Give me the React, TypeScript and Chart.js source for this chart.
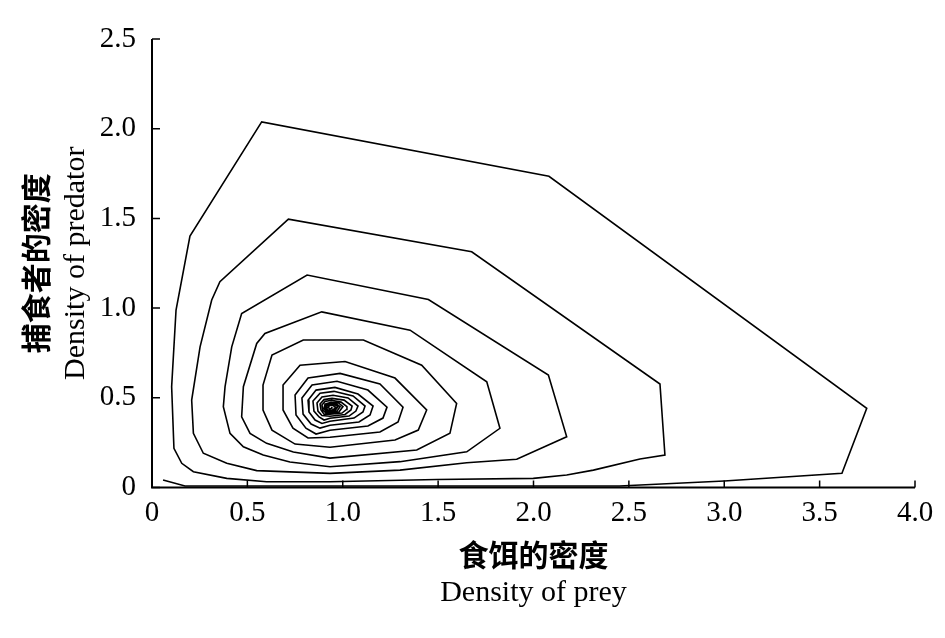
import React, { useEffect, useRef } from 'react';
import { Chart, registerables } from 'chart.js';

Chart.register(...registerables);

// Prey density (x) along the trajectory, spiralling inward
const preyDensity = [
  0.058, 0.173, 2.45, 3.0, 3.617, 3.747, 2.081, 0.575, 0.199, 0.126, 0.103, 0.115, 0.156, 0.217, 0.392, 0.601,
  0.933, 1.493, 1.999, 2.174, 2.314, 2.558, 2.689, 2.663, 1.676, 0.715, 0.356, 0.313, 0.252, 0.208, 0.217, 0.269, 0.392, 0.549,
  0.933, 1.3, 1.65, 1.912, 2.174, 2.078, 1.449, 0.813, 0.47, 0.418, 0.383, 0.374, 0.409, 0.479, 0.583, 0.723,
  0.933, 1.3, 1.65, 1.824, 1.755, 1.353, 0.89, 0.592, 0.549, 0.479, 0.47, 0.514, 0.601, 0.741,
  0.933, 1.388, 1.562, 1.597, 1.414, 1.108, 0.793, 0.629, 0.582, 0.582, 0.629, 0.75,
  0.933, 1.274, 1.396, 1.44, 1.274, 1.012, 0.776, 0.687, 0.687, 0.739, 0.818,
  0.933, 1.195, 1.29, 1.316, 1.195, 0.986, 0.818, 0.75, 0.755, 0.807, 0.86,
  0.933, 1.132, 1.211, 1.232, 1.132, 0.97, 0.839, 0.786, 0.792, 0.834, 0.881,
  0.933, 1.085, 1.143, 1.159, 1.08, 0.959, 0.86, 0.818, 0.823, 0.855, 0.891,
  0.933, 1.059, 1.106, 1.117, 1.054, 0.954, 0.881, 0.844, 0.849, 0.876, 0.902,
  0.933, 1.033, 1.069, 1.08, 1.028, 0.949, 0.891, 0.865, 0.87, 0.891,
  0.933, 1.012, 1.043, 1.049, 1.007, 0.944, 0.902, 0.881, 0.886, 0.902,
  0.933, 0.996, 1.02, 1.022, 0.991, 0.941, 0.907, 0.891, 0.896, 0.912,
  0.933, 0.98, 1.001, 0.978, 0.938, 0.907, 0.902, 0.917,
  0.933, 0.97, 0.986, 0.967, 0.936, 0.912, 0.91, 0.923,
  0.933, 0.962, 0.975, 0.959, 0.933, 0.915, 0.917,
  0.933, 0.954, 0.962, 0.949, 0.931, 0.923, 0.933, 0.944, 0.938,
];

// Predator density (y) along the same trajectory
const predatorDensity = [
  0.042, 0.008, 0.008, 0.036, 0.079, 0.441, 1.735, 2.038, 1.401, 0.989, 0.562, 0.218, 0.135, 0.088, 0.051, 0.032,
  0.032, 0.045, 0.051, 0.07, 0.097, 0.159, 0.181, 0.577, 1.314, 1.496, 1.147, 1.045, 0.784, 0.487, 0.302, 0.191, 0.135, 0.094,
  0.079, 0.097, 0.138, 0.157, 0.283, 0.627, 1.048, 1.184, 0.97, 0.784, 0.562, 0.45, 0.302, 0.227, 0.181, 0.142,
  0.116, 0.144, 0.199, 0.33, 0.589, 0.877, 0.979, 0.859, 0.803, 0.562, 0.394, 0.302, 0.246, 0.198,
  0.164, 0.209, 0.302, 0.469, 0.682, 0.822, 0.822, 0.738, 0.571, 0.432, 0.32, 0.242,
  0.224, 0.265, 0.32, 0.432, 0.61, 0.702, 0.682, 0.571, 0.432, 0.331, 0.276,
  0.28, 0.309, 0.365, 0.448, 0.577, 0.636, 0.61, 0.515, 0.404, 0.331, 0.298,
  0.319, 0.343, 0.387, 0.448, 0.543, 0.592, 0.571, 0.499, 0.409, 0.354, 0.331,
  0.347, 0.365, 0.404, 0.454, 0.521, 0.558, 0.543, 0.487, 0.421, 0.376, 0.357,
  0.369, 0.387, 0.421, 0.454, 0.51, 0.536, 0.526, 0.482, 0.426, 0.393, 0.376,
  0.386, 0.398, 0.426, 0.454, 0.499, 0.514, 0.504, 0.471, 0.426, 0.401,
  0.397, 0.407, 0.432, 0.454, 0.487, 0.497, 0.49, 0.465, 0.432, 0.409,
  0.408, 0.415, 0.435, 0.451, 0.476, 0.486, 0.479, 0.46, 0.432, 0.415,
  0.413, 0.421, 0.451, 0.471, 0.475, 0.465, 0.44, 0.421,
  0.419, 0.426, 0.451, 0.465, 0.469, 0.46, 0.44, 0.425,
  0.425, 0.432, 0.451, 0.461, 0.464, 0.454, 0.435,
  0.429, 0.435, 0.448, 0.457, 0.457, 0.446, 0.438, 0.443, 0.446,
];

const xTickLabels = ['0', '0.5', '1.0', '1.5', '2.0', '2.5', '3.0', '3.5', '4.0'];
const yTickLabels = ['0', '0.5', '1.0', '1.5', '2.0', '2.5'];
const xTitleZh = '食饵的密度';
const xTitleEn = 'Density of prey';
const yTitleZh = '捕食者的密度';
const yTitleEn = 'Density of predator';

const SERIF = '"Liberation Serif", "Times New Roman", serif';
const CJK = '"Noto Sans CJK SC", "Noto Sans CJK JP", sans-serif';

const decorPlugin = {
  id: 'decor',
  afterDraw(chart: any) {
    const { ctx, chartArea } = chart;
    const { left, right, top, bottom } = chartArea;
    const xs = chart.scales.x;
    const ys = chart.scales.y;
    ctx.save();
    ctx.strokeStyle = '#000';
    ctx.lineWidth = 2;
    ctx.beginPath();
    ctx.moveTo(left, top);
    ctx.lineTo(left, bottom);
    ctx.lineTo(right, bottom);
    ctx.stroke();
    ctx.lineWidth = 1.5;
    ctx.beginPath();
    xs.ticks.forEach((t: any) => {
      const px = xs.getPixelForValue(t.value);
      ctx.moveTo(px, bottom);
      ctx.lineTo(px, bottom - 7);
    });
    ys.ticks.forEach((t: any) => {
      const py = ys.getPixelForValue(t.value);
      ctx.moveTo(left, py);
      ctx.lineTo(left + 8, py);
    });
    ctx.stroke();

    ctx.fillStyle = '#000';
    ctx.textAlign = 'center';
    const cx = (left + right) / 2;
    const cy = (top + bottom) / 2;
    ctx.font = 'bold 30px ' + CJK;
    ctx.textBaseline = 'middle';
    ctx.fillText(xTitleZh, cx, 555);
    ctx.font = '30px ' + SERIF;
    ctx.textBaseline = 'alphabetic';
    ctx.fillText(xTitleEn, cx, 601);

    ctx.save();
    ctx.translate(36, cy);
    ctx.rotate(-Math.PI / 2);
    ctx.font = 'bold 30px ' + CJK;
    ctx.textBaseline = 'middle';
    ctx.fillText(yTitleZh, 0, 0);
    ctx.restore();

    ctx.save();
    ctx.translate(84, cy);
    ctx.rotate(-Math.PI / 2);
    ctx.font = '30px ' + SERIF;
    ctx.textBaseline = 'alphabetic';
    ctx.fillText(yTitleEn, 0, 0);
    ctx.restore();

    ctx.restore();
  },
};

export default function App() {
  const canvasRef = useRef<HTMLCanvasElement | null>(null);

  useEffect(() => {
    const canvas = canvasRef.current;
    if (!canvas) return;
    const points = preyDensity.map((x, i) => ({ x, y: predatorDensity[i] }));
    const chart = new Chart(canvas, {
      type: 'scatter',
      data: {
        datasets: [
          {
            data: points,
            showLine: true,
            borderColor: '#000',
            backgroundColor: '#000',
            borderWidth: 1.6,
            pointRadius: 0,
            tension: 0,
            fill: false,
          } as any,
        ],
      },
      options: {
        animation: false,
        responsive: false,
        events: [],
        layout: { padding: { top: 39, right: 30, left: 0, bottom: 0 } },
        plugins: {
          legend: { display: false },
          tooltip: { enabled: false },
          title: { display: false },
        },
        scales: {
          x: {
            type: 'linear',
            min: 0,
            max: 4,
            ticks: {
              stepSize: 0.5,
              autoSkip: false,
              maxRotation: 0,
              color: '#000',
              padding: 8,
              font: { family: SERIF, size: 29 },
              callback: (_v: any, i: number) => xTickLabels[i],
            },
            grid: { display: false, drawTicks: false },
            border: { display: false },
            afterFit: (s: any) => {
              s.height = 150.5;
            },
          },
          y: {
            type: 'linear',
            min: 0,
            max: 2.5,
            ticks: {
              stepSize: 0.5,
              autoSkip: false,
              color: '#000',
              padding: 16,
              font: { family: SERIF, size: 29 },
              callback: (_v: any, i: number) => yTickLabels[i],
            },
            grid: { display: false, drawTicks: false },
            border: { display: false },
            afterFit: (s: any) => {
              s.width = 152;
            },
          },
        },
      } as any,
      plugins: [decorPlugin],
    });
    return () => chart.destroy();
  }, []);

  return (
    <div style={{ position: 'absolute', left: 0, top: 0, width: 945, height: 638, background: '#fff' }}>
      <canvas ref={canvasRef} width={945} height={638} />
    </div>
  );
}
